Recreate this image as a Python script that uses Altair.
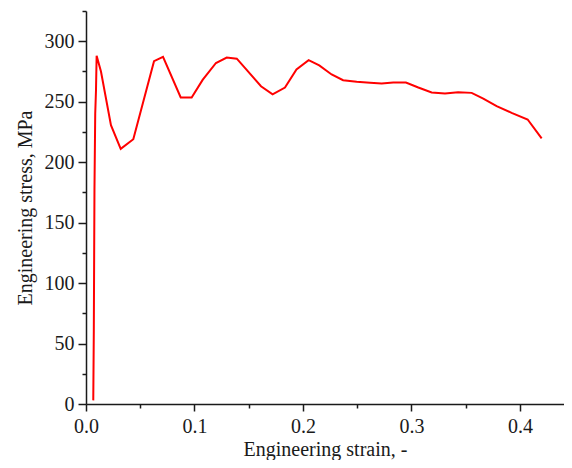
import altair as alt
import pandas as pd

strain = [0.0067, 0.0072, 0.0078, 0.0085, 0.0092, 0.0098, 0.0138, 0.0230, 0.0320, 0.0436,
          0.0627, 0.0710, 0.0873, 0.0974, 0.1075, 0.1198, 0.1297, 0.1390, 0.1613, 0.1720,
          0.1834, 0.1940, 0.2052, 0.2150, 0.2264, 0.2370, 0.2495, 0.2618, 0.2725, 0.2832,
          0.2949, 0.3063, 0.3186, 0.3309, 0.3430, 0.3555, 0.3662, 0.3785, 0.3923, 0.4071,
          0.4200]
stress = [3, 60, 177, 240, 259, 288, 275, 230.6, 211, 219,
          283.5, 287, 253.5, 253.5, 268, 282, 286.5, 285.6, 262.8, 256,
          261.7, 276.6, 284.3, 280, 272.5, 267.8, 266.4, 265.6, 265, 265.8,
          265.8, 261.7, 257.6, 256.7, 257.9, 257.3, 252.6, 246.3, 240.8, 235.3,
          219.6]

x_major = [0.0, 0.1, 0.2, 0.3, 0.4]
x_minor = [0.05, 0.15, 0.25, 0.35]
y_major = [0, 50, 100, 150, 200, 250, 300]
y_minor = [25, 75, 125, 175, 225, 275, 325]

df = pd.DataFrame({"strain": strain, "stress": stress, "order": list(range(len(strain)))})

FONT = "Liberation Serif"
TXT = "#1a1a1a"

xscale = alt.Scale(domain=[0, 0.4406], nice=False, zero=False)
yscale = alt.Scale(domain=[0, 325], nice=False)

common_axis = dict(grid=False, domainColor=TXT, domainWidth=1.5, tickColor=TXT, tickWidth=1.5,
                   labelFont=FONT, labelFontSize=20, labelColor=TXT, titleFont=FONT,
                   titleFontSize=20, titleColor=TXT, titleFontWeight="normal",
                   labelFlush=False, labelOverlap=False)

main = alt.Chart(df).mark_line(color="#ff0000", strokeWidth=2).encode(
    x=alt.X("strain:Q", scale=xscale,
            axis=alt.Axis(values=x_major, format=".1f", tickSize=7, labelPadding=5,
                          title="Engineering strain, -", titlePadding=3, orient="bottom",
                          **common_axis)),
    y=alt.Y("stress:Q", scale=yscale,
            axis=alt.Axis(values=y_major, format="d", tickSize=8, labelPadding=4,
                          title="Engineering stress, MPa", titlePadding=9, orient="left",
                          **common_axis)),
    order="order:Q",
)

minor = alt.Chart(df).mark_line(opacity=0).encode(
    x=alt.X("strain:Q", scale=xscale,
            axis=alt.Axis(values=x_minor, labels=False, domain=False, tickSize=4,
                          title=None, orient="bottom", grid=False, tickColor=TXT, tickWidth=1.5,
                          offset=0)),
    y=alt.Y("stress:Q", scale=yscale,
            axis=alt.Axis(values=y_minor, labels=False, domain=False, tickSize=4,
                          title=None, orient="left", grid=False, tickColor=TXT, tickWidth=1.5,
                          offset=0)),
    order="order:Q",
)

chart = alt.layer(main, minor).resolve_axis(x="independent", y="independent").properties(
    width=478, height=393,
    autosize=alt.AutoSizeParams(type="none"),
    padding={"left": 78, "top": 3, "right": 0, "bottom": 56},
    view=alt.ViewBackground(stroke="transparent", strokeWidth=0),
).configure_view(strokeWidth=0, stroke="transparent").configure_axis(
    gridColor="transparent", gridOpacity=0
).configure(background="white")

chart.save("out.html", embed_options={"renderer": "svg", "actions": False})
